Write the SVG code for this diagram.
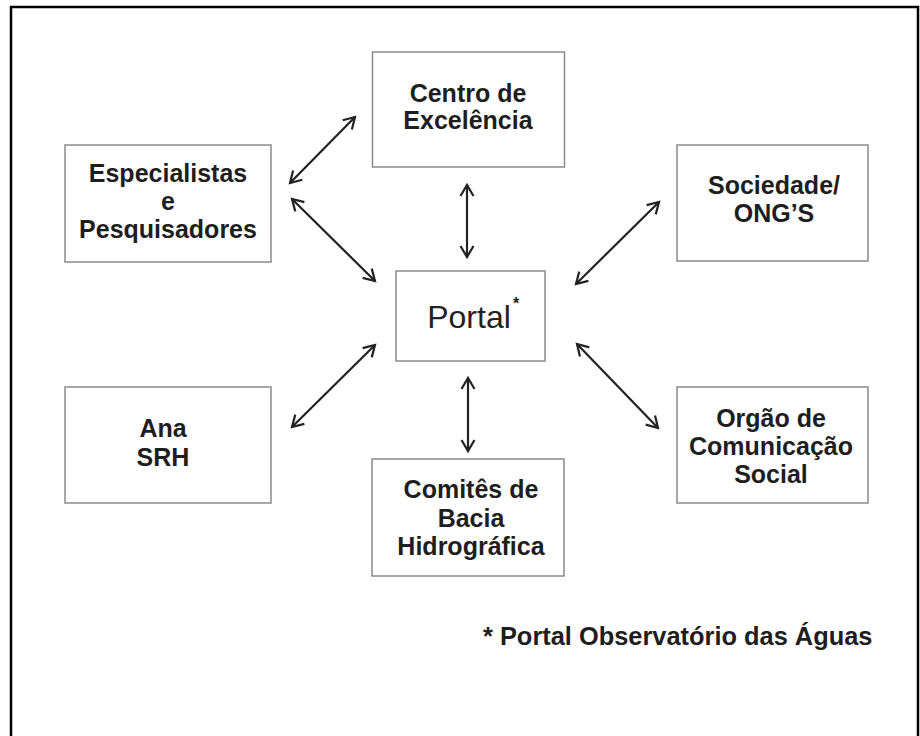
<svg xmlns="http://www.w3.org/2000/svg" width="920" height="736" viewBox="0 0 920 736">
<style>
.box{fill:#fff;stroke:#8a8a8a;stroke-width:1.5}
.t{font-family:"Liberation Sans",Arial,sans-serif;font-weight:bold;font-size:25px;fill:#1e1e1e;text-anchor:middle}
.arr{stroke:#222;stroke-width:2.2;fill:none;marker-start:url(#ah);marker-end:url(#ah)}
</style>
<defs>
<marker id="ah" markerUnits="userSpaceOnUse" markerWidth="30" markerHeight="30" refX="0" refY="0" orient="auto-start-reverse" overflow="visible" viewBox="-15 -15 30 30">
<path d="M-11,-6.5 L0,0 L-11,6.5" fill="none" stroke="#222" stroke-width="2.2" stroke-linejoin="miter"/>
</marker>
</defs>
<rect x="0" y="0" width="920" height="736" fill="#fff"/>
<path d="M11,736 V7 H918 V736" fill="none" stroke="#000" stroke-width="2.5"/>
<g id="connectors">
<line class="arr" x1="355" y1="117" x2="290" y2="183"/>
<line class="arr" x1="292" y1="199" x2="375" y2="281"/>
<line class="arr" x1="467" y1="185" x2="467" y2="257"/>
<line class="arr" x1="659" y1="202" x2="576" y2="284"/>
<line class="arr" x1="577" y1="344" x2="658" y2="428"/>
<line class="arr" x1="375" y1="345" x2="292" y2="427"/>
<line class="arr" x1="468" y1="378" x2="468" y2="451"/>
</g>
<g id="centro">
<rect class="box" x="372.5" y="52" width="192" height="115"/>
<text class="t" x="468" y="102">Centro de</text>
<text class="t" x="468" y="129">Excelência</text>
</g>
<g id="especialistas">
<rect class="box" x="65" y="145" width="206" height="117"/>
<text class="t" x="168" y="182">Especialistas</text>
<text class="t" x="168" y="210">e</text>
<text class="t" x="168" y="238">Pesquisadores</text>
</g>
<g id="sociedade">
<rect class="box" x="677" y="145" width="191" height="116"/>
<text class="t" x="774" y="194">Sociedade/</text>
<text class="t" x="774" y="222">ONG’S</text>
</g>
<g id="portal">
<rect class="box" x="396" y="271" width="149" height="90"/>
<text x="469" y="328" font-family="Liberation Sans,Arial,sans-serif" font-size="32" fill="#222" text-anchor="middle">Portal</text>
<text x="516" y="309" font-family="Liberation Sans,Arial,sans-serif" font-weight="bold" font-size="16" fill="#222" text-anchor="middle">*</text>
</g>
<g id="ana">
<rect class="box" x="65" y="387" width="206" height="116"/>
<text class="t" x="163" y="437">Ana</text>
<text class="t" x="163" y="466">SRH</text>
</g>
<g id="comites">
<rect class="box" x="372" y="459" width="192" height="117"/>
<text class="t" x="471" y="498">Comitês de</text>
<text class="t" x="471" y="527">Bacia</text>
<text class="t" x="471" y="555">Hidrográfica</text>
</g>
<g id="orgao">
<rect class="box" x="677" y="387" width="191" height="116"/>
<text class="t" x="771" y="427">Orgão de</text>
<text class="t" x="771" y="455">Comunicação</text>
<text class="t" x="771" y="483">Social</text>
</g>
<text x="483" y="645" font-family="Liberation Sans,Arial,sans-serif" font-weight="bold" font-size="25.4" fill="#1e1e1e">* Portal Observatório das Águas</text>
</svg>
